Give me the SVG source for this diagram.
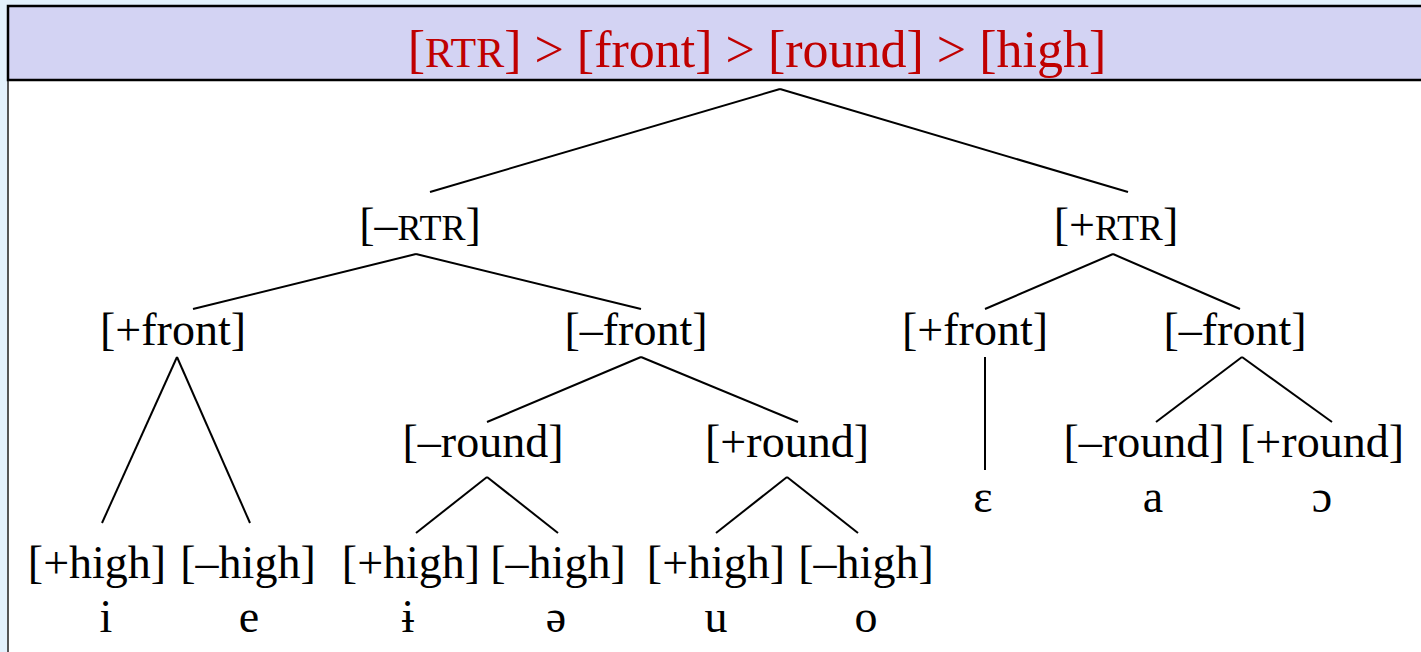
<svg xmlns="http://www.w3.org/2000/svg" width="1421" height="652" viewBox="0 0 1421 652">
<style>
.t{font-family:"Liberation Serif","Times New Roman",serif;font-size:46px;fill:#000;text-anchor:middle}
.sc{font-size:36px}
.h{font-family:"Liberation Serif","Times New Roman",serif;font-size:52px;fill:#c00000;text-anchor:middle}
.hsc{font-size:42px}
.c line{stroke:#000;stroke-width:2;fill:none}
</style>
<rect x="0" y="0" width="1421" height="652" fill="#e3f1fc"/>
<rect x="8" y="80" width="1420" height="580" fill="#fff" stroke="#555" stroke-width="2"/>
<g id="header">
<rect x="8" y="6" width="1420" height="74" fill="#d3d3f3" stroke="#000" stroke-width="2.5"/>
<text class="h" x="757" y="67">[<tspan class="hsc">RTR</tspan>] &gt; [front] &gt; [round] &gt; [high]</text>
</g>
<g class="c" id="connectors">
<line x1="780" y1="89" x2="430" y2="192"/>
<line x1="780" y1="89" x2="1128" y2="192"/>
<line x1="416" y1="254" x2="193" y2="309"/>
<line x1="416" y1="254" x2="641" y2="309"/>
<line x1="1113" y1="254" x2="985" y2="309"/>
<line x1="1113" y1="254" x2="1240" y2="309"/>
<line x1="177" y1="357" x2="102" y2="523"/>
<line x1="177" y1="357" x2="250" y2="523"/>
<line x1="641" y1="357" x2="487" y2="422"/>
<line x1="641" y1="357" x2="798" y2="422"/>
<line x1="985" y1="357" x2="985" y2="470"/>
<line x1="1242" y1="357" x2="1156" y2="422"/>
<line x1="1242" y1="357" x2="1332" y2="422"/>
<line x1="487" y1="477" x2="416" y2="533"/>
<line x1="487" y1="477" x2="558" y2="533"/>
<line x1="787" y1="477" x2="716" y2="533"/>
<line x1="787" y1="477" x2="858" y2="533"/>
</g>
<g id="n-rtr-minus"><text class="t" x="420" y="240">[–<tspan class="sc">RTR</tspan>]</text></g>
<g id="n-rtr-plus"><text class="t" x="1116" y="240">[+<tspan class="sc">RTR</tspan>]</text></g>
<g id="n-front-plus-l"><text class="t" x="173" y="345">[+front]</text></g>
<g id="n-front-minus-l"><text class="t" x="636" y="345">[–front]</text></g>
<g id="n-front-plus-r"><text class="t" x="975" y="345">[+front]</text></g>
<g id="n-front-minus-r"><text class="t" x="1235" y="345">[–front]</text></g>
<g id="n-round-minus-l"><text class="t" x="483" y="457">[–round]</text></g>
<g id="n-round-plus-l"><text class="t" x="787" y="457">[+round]</text></g>
<g id="n-round-minus-r"><text class="t" x="1144" y="457">[–round]</text></g>
<g id="n-round-plus-r"><text class="t" x="1322" y="457">[+round]</text></g>
<g id="v-epsilon"><text class="t" x="983" y="512">ɛ</text></g>
<g id="v-a"><text class="t" x="1153" y="512">a</text></g>
<g id="v-open-o"><text class="t" x="1322" y="512">ɔ</text></g>
<g id="n-high-1"><text class="t" x="97" y="578">[+high]</text></g>
<g id="n-high-2"><text class="t" x="248" y="578">[–high]</text></g>
<g id="n-high-3"><text class="t" x="411" y="578">[+high]</text></g>
<g id="n-high-4"><text class="t" x="558" y="578">[–high]</text></g>
<g id="n-high-5"><text class="t" x="716" y="578">[+high]</text></g>
<g id="n-high-6"><text class="t" x="866" y="578">[–high]</text></g>
<g id="v-i"><text class="t" x="106" y="632">i</text></g>
<g id="v-e"><text class="t" x="249" y="632">e</text></g>
<g id="v-barred-i"><text class="t" x="408" y="632">ɨ</text></g>
<g id="v-schwa"><text class="t" x="556" y="632">ə</text></g>
<g id="v-u"><text class="t" x="716" y="632">u</text></g>
<g id="v-o"><text class="t" x="866" y="632">o</text></g>
</svg>
